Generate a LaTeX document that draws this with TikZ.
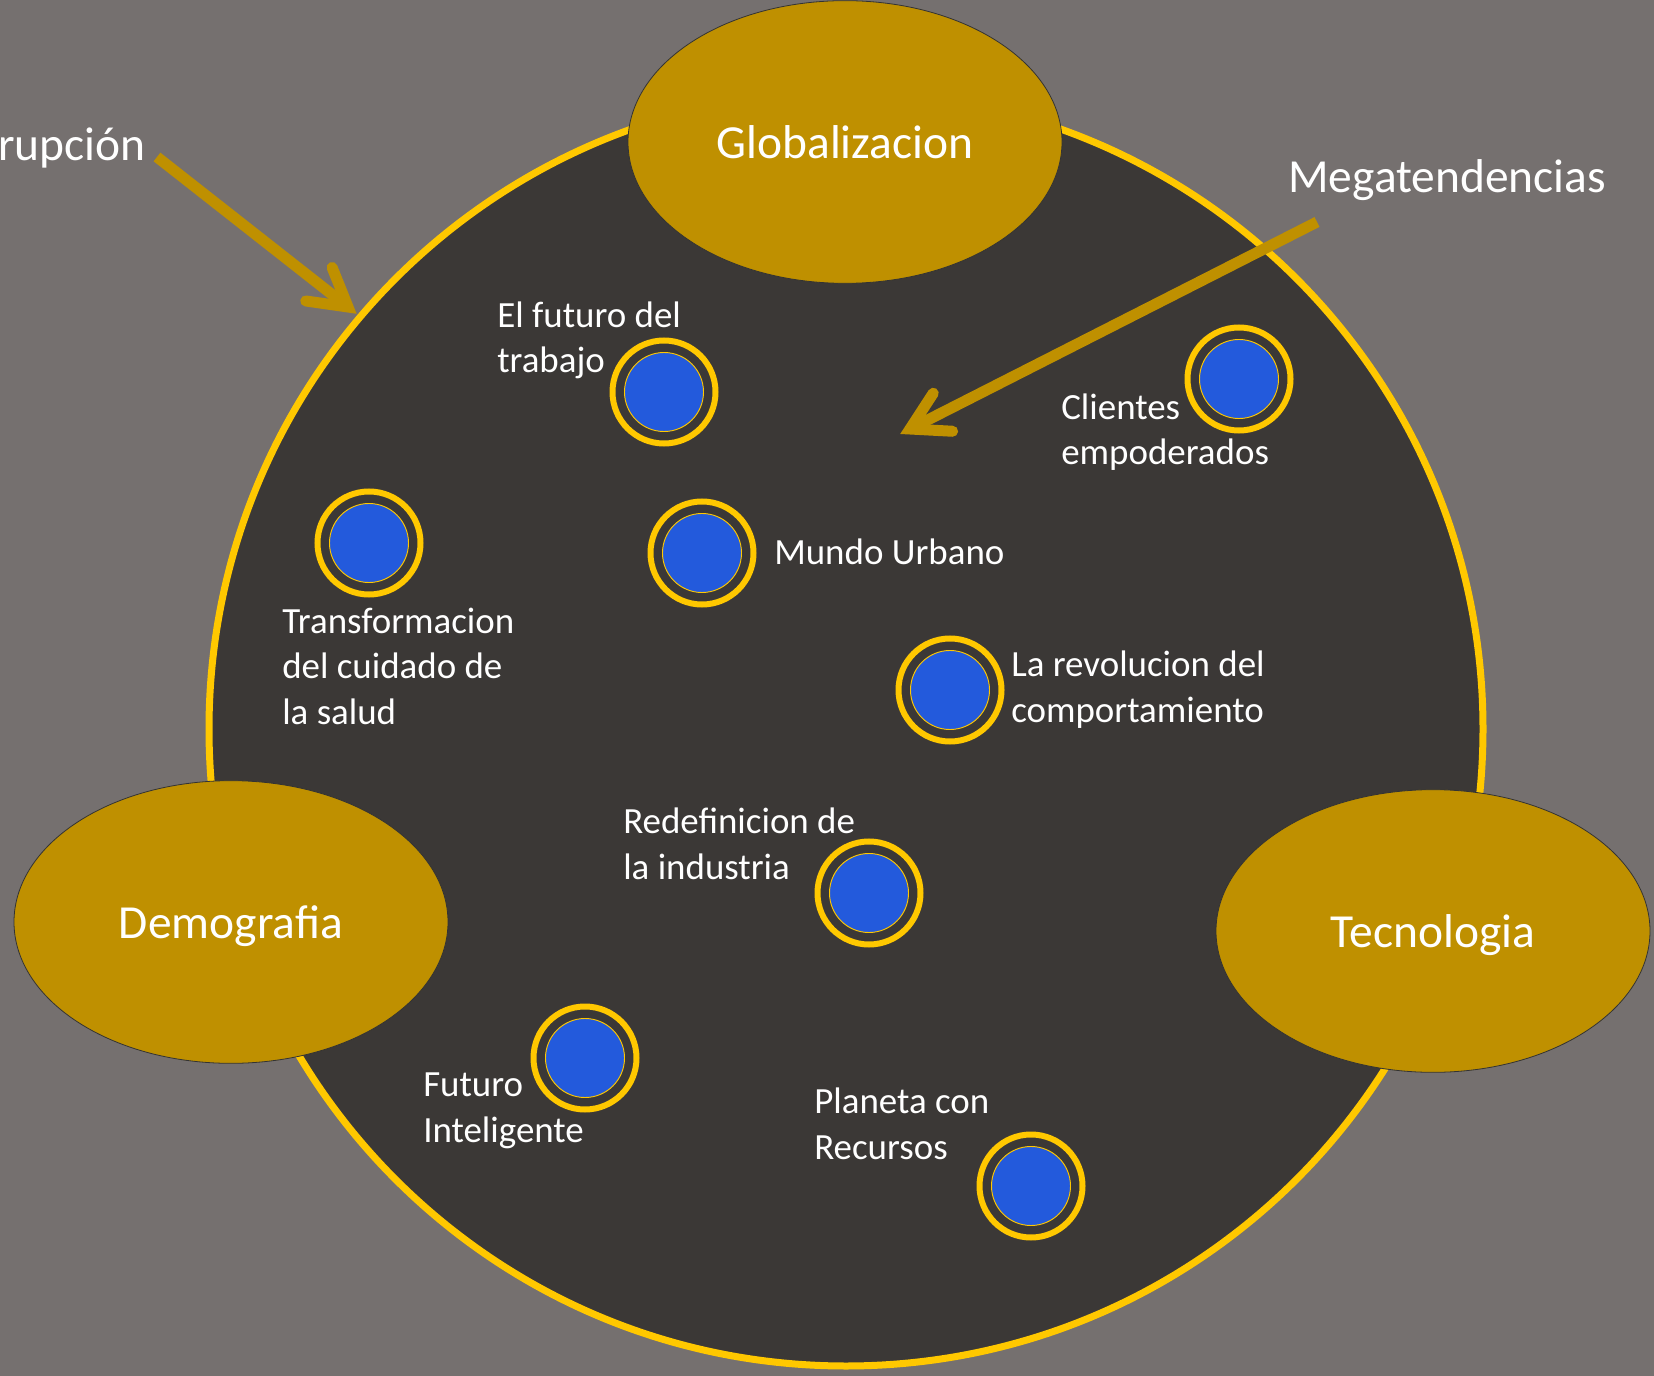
\documentclass[tikz,border=0pt]{standalone}
\usepackage{fontspec}
\setmainfont{Carlito}
\usetikzlibrary{calc,shapes.geometric}
\definecolor{bg}{RGB}{117,112,111}
\definecolor{darkfill}{RGB}{59,56,54}
\definecolor{ringyellow}{RGB}{255,200,0}
\definecolor{gold}{RGB}{191,144,0}
\definecolor{dotblue}{RGB}{35,90,220}
\begin{document}
\begin{tikzpicture}[x=0.75pt,y=-0.75pt,
  bigfont/.style={font=\fontsize{35.6}{43}\selectfont, text=white},
  smallfont/.style={font=\fontsize{27.7}{34}\selectfont, text=white},
  theme/.style={ellipse, fill=gold, draw=black!80, line width=0.6pt,
    minimum width=325.5pt, minimum height=212pt, inner sep=0pt, bigfont,
    text depth=0pt},
  ring/.style={circle, draw=ringyellow, line width=4.5pt, fill=darkfill,
    minimum size=77.25pt, inner sep=0pt},
  dot/.style={circle, draw=ringyellow, line width=0.7pt, fill=dotblue,
    minimum size=59.25pt, inner sep=0pt},
  lbl/.style={smallfont, anchor=base west, align=left, inner sep=0pt},
  shaft/.style={draw=gold, line width=8.25pt, line cap=butt},
  barb/.style={draw=gold, line width=8.25pt, line cap=round, line join=miter}
]
\useasboundingbox (0,0) rectangle (1654,1376);
\fill[bg] (0,0) rectangle (1654,1376);

% main circle
\node[circle, draw=ringyellow, line width=5.25pt, fill=darkfill,
  minimum size=955.5pt, inner sep=0pt] (big) at (846,729) {};

% theme ellipses
\node[theme] (glob) at (845,142) {Globalizacion};
\node[theme] (demo) at (231,922) {Demografia};
\node[theme] (tecn) at (1433,931) {Tecnologia};

% megatrend dots
\foreach \n/\x/\y in {1/664/392, 2/1239/379, 3/369/543, 4/702/553,
                      5/950/690, 6/869/893, 7/585/1058, 8/1031/1186}{
  \node[ring] (r\n) at (\x,\y) {};
  \node[dot] (b\n) at (\x,\y) {};
}

% labels (anchored at the baseline of their last line)
\node[lbl] (t1) at (497,373) {El futuro del\\trabajo};
\node[lbl] (t2) at (1061,465) {Clientes\\empoderados};
\node[lbl] (t3) at (282,724) {Transformacion\\del cuidado de\\la salud};
\node[lbl] (t4) at (774,565) {Mundo Urbano};
\node[lbl] (t5) at (1011,722) {La revolucion del\\comportamiento};
\node[lbl] (t6) at (623,879) {Redefinicion de\\la industria};
\node[lbl] (t7) at (423,1142) {Futuro\\Inteligente};
\node[lbl] (t8) at (814,1159) {Planeta con\\Recursos};

% top texts
\node[bigfont, anchor=base west, inner sep=0pt] (mega) at (1288,193) {Megatendencias};
\node[bigfont, anchor=base east, inner sep=0pt] (disr) at (146,161) {rupción};

% Disrupcion arrow
\coordinate (ds) at (157,157);
\coordinate (dv) at (348,307);
\draw[shaft] (ds) -- (dv);
\draw[barb] ($(dv)!32pt!30:(ds)$) -- (dv) -- ($(dv)!32pt!-30:(ds)$);

% Megatendencias arrow
\coordinate (ms) at (1317,222);
\coordinate (mv) at (910,429);
\draw[shaft] (ms) -- (mv);
\draw[barb] ($(mv)!32pt!30:(ms)$) -- (mv) -- ($(mv)!32pt!-30:(ms)$);
\end{tikzpicture}
\end{document}
